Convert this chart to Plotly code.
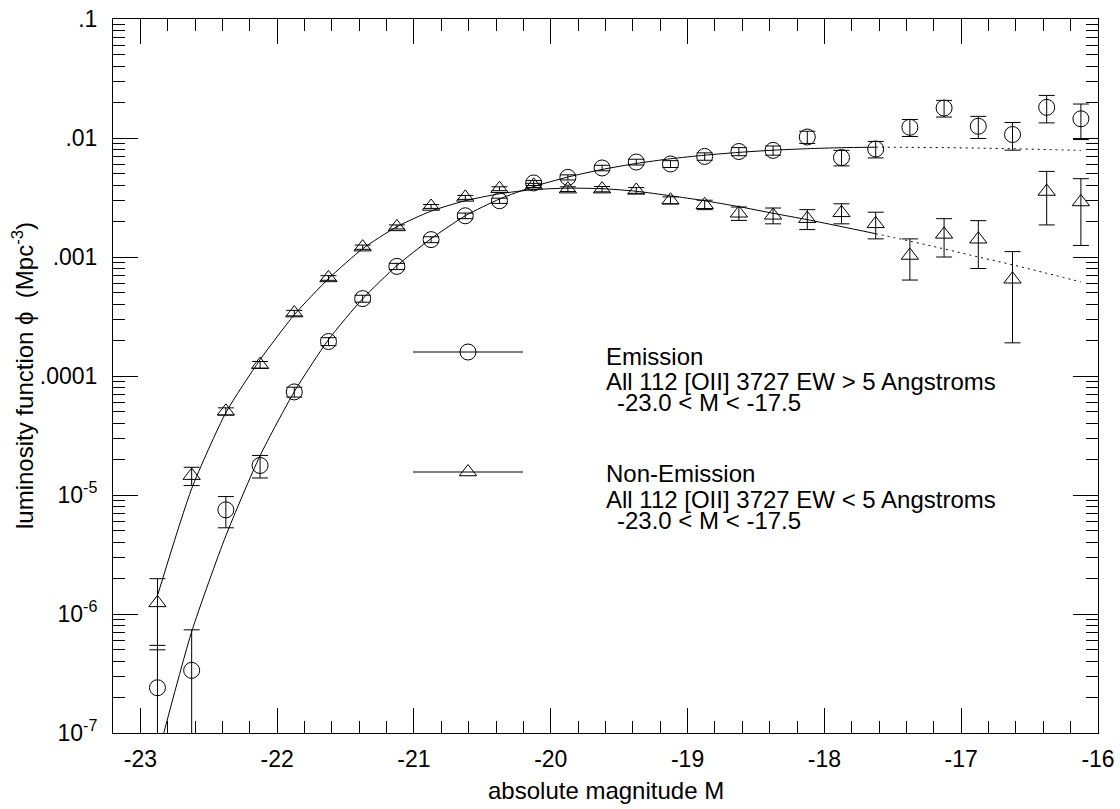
import plotly.graph_objects as go

# ---- data ----
mag = [-22.875, -22.625, -22.375, -22.125, -21.875, -21.625, -21.375, -21.125,
       -20.875, -20.625, -20.375, -20.125, -19.875, -19.625, -19.375, -19.125,
       -18.875, -18.625, -18.375, -18.125, -17.875, -17.625, -17.375, -17.125,
       -16.875, -16.625, -16.375, -16.125]

emis_phi = [2.4e-7, 3.36e-7, 7.5e-6, 1.77e-5, 7.35e-5, 1.95e-4, 4.47e-4, 8.34e-4,
            1.40e-3, 2.22e-3, 2.97e-3, 4.19e-3, 4.67e-3, 5.6e-3, 6.28e-3, 6.05e-3,
            7.0e-3, 7.7e-3, 7.87e-3, 1.02e-2, 6.85e-3, 8.08e-3, 1.23e-2, 1.785e-2,
            1.255e-2, 1.07e-2, 1.81e-2, 1.45e-2]
emis_err = [3.05e-7, 4.0e-7, 2.2e-6, 3.8e-6, 7e-6, 1.5e-5, 3e-5, 5e-5,
            8e-5, 1.2e-4, 1.5e-4, 2e-4, 2.3e-4, 3e-4, 3.5e-4, 4e-4,
            5e-4, 6e-4, 7e-4, 1.2e-3, 1.02e-3, 1.28e-3, 2.0e-3, 2.85e-3,
            2.65e-3, 2.8e-3, 4.7e-3, 4.8e-3]

non_phi = [1.24e-6, 1.455e-5, 5.05e-5, 1.245e-4, 3.38e-4, 6.67e-4, 1.21e-3, 1.79e-3,
           2.66e-3, 3.17e-3, 3.75e-3, 4.0e-3, 3.72e-3, 3.72e-3, 3.63e-3, 3.0e-3,
           2.75e-3, 2.33e-3, 2.24e-3, 2.1e-3, 2.35e-3, 1.9e-3, 1.03e-3, 1.55e-3,
           1.41e-3, 6.5e-4, 3.55e-3, 2.9e-3]
non_err = [7.4e-7, 2.55e-6, 3.5e-6, 8e-6, 1.8e-5, 3e-5, 5e-5, 7e-5,
           1e-4, 1.2e-4, 1.4e-4, 1.6e-4, 1.7e-4, 1.9e-4, 2.0e-4, 2.0e-4,
           2.5e-4, 3.0e-4, 3.4e-4, 4.0e-4, 4.5e-4, 4.8e-4, 3.9e-4, 5.5e-4,
           6.1e-4, 4.6e-4, 1.69e-3, 1.65e-3]

# fitted curves (solid over fit range, dotted beyond)
fit_mag = [-22.875, -22.625, -22.375, -22.125, -21.875, -21.625, -21.375, -21.125,
           -20.875, -20.625, -20.375, -20.125, -19.875, -19.625, -19.375, -19.125,
           -18.875, -18.625, -18.375, -18.125, -17.875, -17.625]
emis_fit = [6.3e-8, 7.1e-7, 4.55e-6, 2.14e-5, 7.38e-5, 2.02e-4, 4.46e-4, 8.45e-4,
            1.425e-3, 2.22e-3, 3.07e-3, 3.91e-3, 4.70e-3, 5.44e-3, 6.11e-3, 6.69e-3,
            7.17e-3, 7.57e-3, 7.90e-3, 8.13e-3, 8.29e-3, 8.37e-3]
non_fit = [1.425e-6, 1.13e-5, 4.92e-5, 1.37e-4, 3.27e-4, 6.57e-4, 1.174e-3, 1.797e-3,
           2.43e-3, 2.97e-3, 3.40e-3, 3.68e-3, 3.79e-3, 3.75e-3, 3.57e-3, 3.27e-3,
           2.97e-3, 2.65e-3, 2.33e-3, 2.06e-3, 1.80e-3, 1.57e-3]
ext_mag = [-17.625, -17.375, -17.125, -16.875, -16.625, -16.375, -16.125]
emis_ext = [8.37e-3, 8.35e-3, 8.3e-3, 8.22e-3, 8.12e-3, 8.0e-3, 7.87e-3]
non_ext = [1.57e-3, 1.36e-3, 1.17e-3, 1.0e-3, 8.6e-4, 7.3e-4, 6.17e-4]

x_ticks = [-23, -22, -21, -20, -19, -18, -17, -16]
y_ticks = [1e-7, 1e-6, 1e-5, 1e-4, 1e-3, 1e-2, 1e-1]
y_ticktext = ["10<sup>-7</sup>", "10<sup>-6</sup>", "10<sup>-5</sup>",
              ".0001", ".001", ".01", ".1"]

legend_lines = ["Emission", "All 112 [OII] 3727 EW > 5 Angstroms", "-23.0 < M < -17.5"]
legend_lines2 = ["Non-Emission", "All 112 [OII] 3727 EW < 5 Angstroms", "-23.0 < M < -17.5"]

FONT = "Liberation Sans, Arial, Helvetica, sans-serif"
BLACK = "black"

fig = go.Figure()

ebar = dict(type="data", symmetric=True, color=BLACK, thickness=1, width=8)

fig.add_trace(go.Scatter(x=fit_mag, y=emis_fit, mode="lines", line=dict(color=BLACK, width=1, shape="spline", smoothing=0.6), showlegend=False))
fig.add_trace(go.Scatter(x=fit_mag, y=non_fit, mode="lines", line=dict(color=BLACK, width=1, shape="spline", smoothing=0.6), showlegend=False))
fig.add_trace(go.Scatter(x=ext_mag, y=emis_ext, mode="lines", line=dict(color=BLACK, width=1, dash="2px,4px", shape="spline"), showlegend=False))
fig.add_trace(go.Scatter(x=ext_mag, y=non_ext, mode="lines", line=dict(color=BLACK, width=1, dash="2px,4px", shape="spline"), showlegend=False))

fig.add_trace(go.Scatter(x=mag, y=emis_phi, mode="markers",
                         marker=dict(symbol="circle-open", size=16, color=BLACK, line=dict(width=1, color=BLACK)),
                         error_y=dict(array=emis_err, **ebar), showlegend=False))
fig.add_trace(go.Scatter(x=mag, y=non_phi, mode="markers",
                         marker=dict(symbol="triangle-up-open", size=15, color=BLACK, line=dict(width=1, color=BLACK)),
                         error_y=dict(array=non_err, **ebar), showlegend=False))

# ---- hand-drawn legend on an overlay axis (0..1 fractions of the plot area) ----
L, T, W, H = 113, 19, 985, 714
def fx(px):
    return (px - L) / W
def fy(py):
    return 1 - (py - T) / H

for ypx, sym, sz in [(352, "circle-open", 16), (472, "triangle-up-open", 15)]:
    fig.add_trace(go.Scatter(x=[fx(413), fx(468), fx(523)], y=[fy(ypx)] * 3, mode="lines",
                             line=dict(color=BLACK, width=1), xaxis="x2", yaxis="y2", showlegend=False))
    fig.add_trace(go.Scatter(x=[fx(468)], y=[fy(ypx)], mode="markers",
                             marker=dict(symbol=sym, size=sz, color=BLACK, line=dict(width=1, color=BLACK)),
                             xaxis="x2", yaxis="y2", showlegend=False))

annotations = []
for lines, mids in [(legend_lines, [356, 381, 402]), (legend_lines2, [474, 499, 520])]:
    for i, (txt, ym) in enumerate(zip(lines, mids)):
        xpx = 604 if i < 2 else 615
        annotations.append(dict(text=txt, xref="paper", yref="paper", x=fx(xpx), y=fy(ym),
                                xanchor="left", yanchor="middle", showarrow=False,
                                font=dict(family=FONT, size=24, color=BLACK)))

annotations.append(dict(text="absolute magnitude M", xref="paper", yref="paper", x=0.5, y=fy(790),
                        xanchor="center", yanchor="middle", showarrow=False,
                        font=dict(family=FONT, size=24, color=BLACK)))
annotations.append(dict(text="luminosity function \u03d5  (Mpc<sup>-3</sup>)", xref="paper", yref="paper",
                        x=fx(23), y=0.5, xanchor="center", yanchor="middle", textangle=-90, showarrow=False,
                        font=dict(family=FONT, size=24, color=BLACK)))

minor_y = [k * 10.0 ** d for d in range(-7, -1) for k in range(2, 10)]

axis_common = dict(showline=True, linecolor=BLACK, linewidth=1, mirror="allticks",
                   ticks="inside", ticklen=25, tickwidth=1, tickcolor=BLACK,
                   showgrid=False, zeroline=False, automargin=False,
                   tickfont=dict(family=FONT, size=23, color=BLACK))

fig.update_layout(
    width=1120, height=809,
    margin=dict(l=L, r=1120 - L - W, t=T, b=809 - T - H, autoexpand=False),
    paper_bgcolor="white", plot_bgcolor="white",
    showlegend=False,
    annotations=annotations,
    xaxis=dict(range=[-23.2, -16], tickvals=x_ticks, ticktext=[str(v) for v in x_ticks],
               ticklabelstandoff=5,
               minor=dict(dtick=0.2, tick0=-23, ticks="inside", ticklen=12, tickwidth=1,
                          tickcolor=BLACK, showgrid=False),
               **axis_common),
    yaxis=dict(type="log", range=[-7, -1], tickvals=y_ticks, ticktext=y_ticktext,
               ticklabelstandoff=10,
               minor=dict(tickvals=minor_y, ticks="inside", ticklen=12, tickwidth=1,
                          tickcolor=BLACK, showgrid=False),
               **axis_common),
    xaxis2=dict(overlaying="x", range=[0, 1], visible=False, fixedrange=True, automargin=False),
    yaxis2=dict(overlaying="y", range=[0, 1], visible=False, fixedrange=True, automargin=False),
)

# the page's default 8px body margin would shift the figure; remove it
fig.write_html("out.html", config={"displayModeBar": False},
               post_script="document.body.style.margin='0';")
